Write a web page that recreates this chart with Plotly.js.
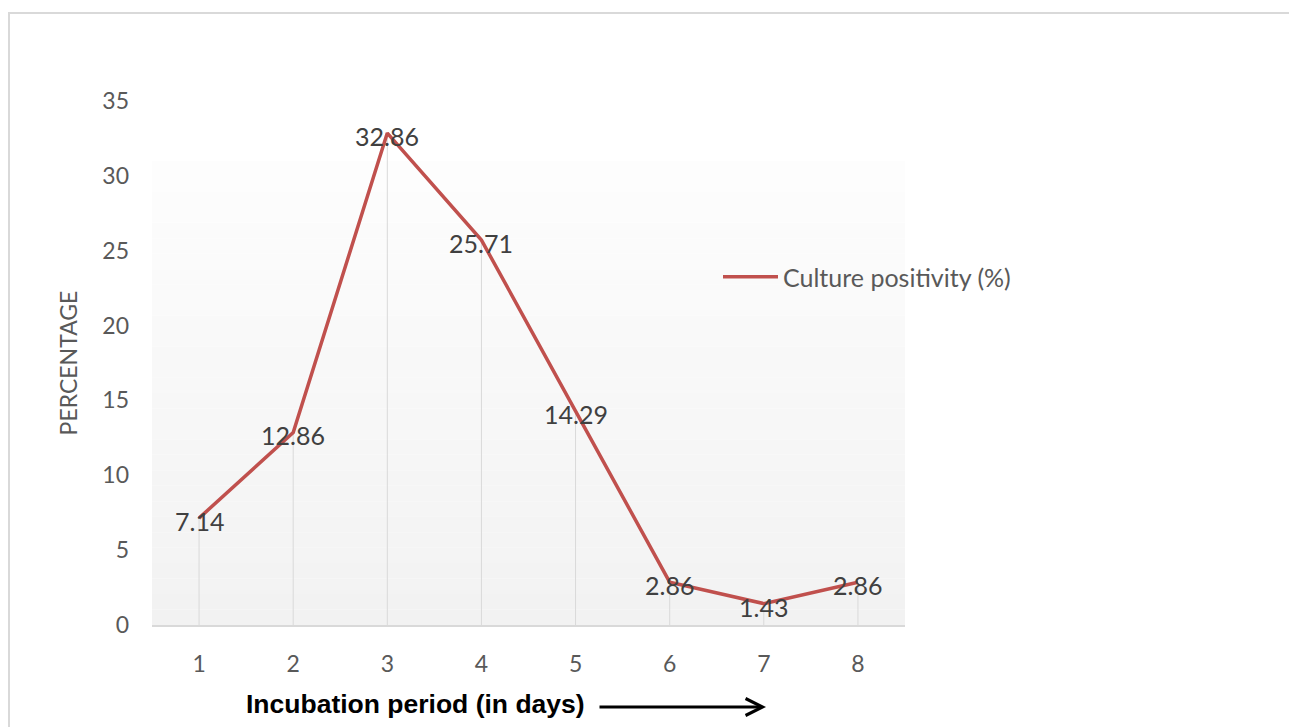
<!DOCTYPE html>
<html>
<head>
<meta charset="utf-8">
<script src="https://cdn.plot.ly/plotly-3.0.1.min.js"></script>
<style>html,body{margin:0;padding:0;background:#fff;}#chart{width:1289px;height:727px;}</style>
</head>
<body>
<div id="chart"></div>
<script>
const days = [1, 2, 3, 4, 5, 6, 7, 8];
const positivity = [7.14, 12.86, 32.86, 25.71, 14.29, 2.86, 1.43, 2.86];
const seriesName = 'Culture positivity (%)';
const yTicks = [0, 5, 10, 15, 20, 25, 30, 35];

const L = 152, T = 101, W = 753, H = 524, FW = 1289, FH = 727;
const px = v => (v - L) / W;
const py = v => (T + H - v) / H;

// gradient background strips (decorative)
const shapes = [];
const N = 30, bgTop = 31;
for (let i = 0; i < N; i++) {
  const f = i / (N - 1);
  const c = Math.round(242 + (253 - 242) * f);
  shapes.push({type: 'rect', layer: 'below', xref: 'paper', yref: 'y',
    x0: 0, x1: 1, y0: bgTop * i / N, y1: bgTop * (i + 1) / N,
    fillcolor: `rgb(${c},${c},${c})`, line: {width: 0}});
}
// outer border
shapes.push({type: 'rect', xref: 'paper', yref: 'paper',
  x0: px(9), x1: px(1300), y0: py(740), y1: py(13),
  line: {color: '#d9d9d9', width: 2}, fillcolor: 'rgba(0,0,0,0)'});

const labelFont = {family: 'Lato, sans-serif', size: 25, color: '#404040'};

const traces = [
  { // drop lines
    x: days, y: positivity, type: 'scatter', mode: 'none', showlegend: false,
    hoverinfo: 'skip',
    error_y: {type: 'data', symmetric: false, array: days.map(() => 0),
      arrayminus: positivity, color: '#d9d9d9', thickness: 1, width: 0}
  },
  {
    x: days, y: positivity, type: 'scatter', mode: 'lines', name: seriesName,
    line: {color: '#c0504d', width: 3.5}
  }
];

const labelAnnotations = days.map((d, i) => ({
  x: d, y: positivity[i], xref: 'x', yref: 'y', text: positivity[i].toFixed(2),
  showarrow: false, xanchor: 'center', yanchor: 'middle', yshift: -3,
  font: labelFont
}));

const layout = {
  width: FW, height: FH,
  margin: {l: L, t: T, r: FW - L - W, b: FH - T - H, pad: 0},
  paper_bgcolor: '#ffffff', plot_bgcolor: 'rgba(0,0,0,0)',
  showlegend: true,
  legend: {x: px(718), y: py(277), xanchor: 'left', yanchor: 'middle', itemwidth: 55,
    bgcolor: 'rgba(0,0,0,0)', font: {family: 'Lato, sans-serif', size: 25, color: '#595959'}},
  xaxis: {range: [0.5, 8.5], tickvals: days, ticktext: days.map(String),
    showgrid: false, zeroline: false, showline: true, linecolor: '#d9d9d9', linewidth: 1.5,
    ticks: '', ticklabelstandoff: 18,
    tickfont: {family: 'Lato, sans-serif', size: 23, color: '#595959'}},
  yaxis: {range: [0, 35], tickvals: yTicks, ticktext: yTicks.map(String),
    showgrid: false, zeroline: false, showline: false, ticks: '', ticklabelstandoff: 22,
    tickfont: {family: 'Lato, sans-serif', size: 23, color: '#595959'},
    title: {text: 'PERCENTAGE', standoff: 18, font: {family: 'Lato, sans-serif', size: 23, color: '#595959'}}},
  shapes: shapes,
  annotations: labelAnnotations.concat([
    {xref: 'paper', yref: 'paper', x: px(415), y: py(704), text: '<b>Incubation period (in days)</b>',
      showarrow: false, xanchor: 'center', yanchor: 'middle',
      font: {family: 'Liberation Sans, Arial, sans-serif', size: 26.5, color: '#000'}},
    {xref: 'paper', yref: 'paper', x: px(766), y: py(707), ax: -168, ay: 0, text: '',
      showarrow: true, arrowhead: 5, arrowsize: 1.1, arrowwidth: 3, arrowcolor: '#000'}
  ])
};

Plotly.newPlot('chart', traces, layout, {displayModeBar: false, staticPlot: true});
</script>
</body>
</html>
